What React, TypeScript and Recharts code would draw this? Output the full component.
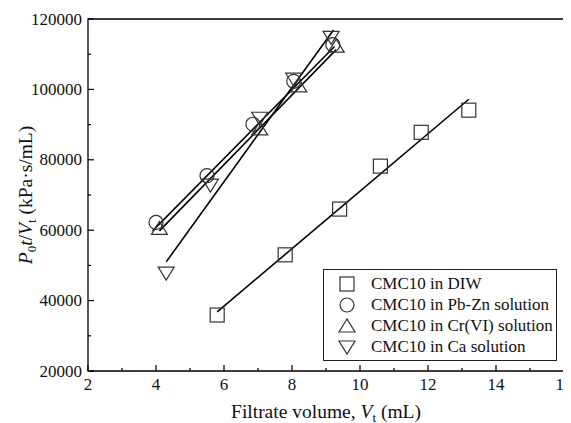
import {
  ComposedChart,
  XAxis,
  YAxis,
  Scatter,
  Line,
  ReferenceArea,
  Legend
} from "recharts";

const font = "Liberation Serif";

// axis ticks (minor ones carry no label)
const xTicks = [2, 3, 4, 5, 6, 7, 8, 9, 10, 11, 12, 13, 14, 15, 16];
const yTicks = [20000, 30000, 40000, 50000, 60000, 70000, 80000, 90000, 100000, 110000, 120000];

// measured points
const diw = [
  { x: 5.8, y: 35900 },
  { x: 7.8, y: 53000 },
  { x: 9.4, y: 66000 },
  { x: 10.6, y: 78200 },
  { x: 11.8, y: 87800 },
  { x: 13.2, y: 94100 }
];
const pbzn = [
  { x: 4.0, y: 62200 },
  { x: 5.5, y: 75500 },
  { x: 6.85, y: 90100 },
  { x: 8.05, y: 102300 },
  { x: 9.2, y: 112700 }
];
const crvi = [
  { x: 4.1, y: 60500 },
  { x: 7.05, y: 88800 },
  { x: 8.2, y: 101000 },
  { x: 9.3, y: 112300 }
];
const ca = [
  { x: 4.3, y: 47800 },
  { x: 5.6, y: 72800 },
  { x: 7.05, y: 91800 },
  { x: 8.05, y: 102900 },
  { x: 9.15, y: 114800 }
];

// fitted lines, end points
const fitDiw = [
  { x: 5.8, y: 36800 },
  { x: 13.2, y: 97200 }
];
const fitPbzn = [
  { x: 3.9, y: 59800 },
  { x: 9.25, y: 112200 }
];
const fitCrvi = [
  { x: 4.1, y: 59800 },
  { x: 9.3, y: 111300 }
];
const fitCa = [
  { x: 4.3, y: 51000 },
  { x: 9.22, y: 116900 }
];

const seriesNames = [
  "CMC10 in DIW",
  "CMC10 in Pb-Zn solution",
  "CMC10 in Cr(VI) solution",
  "CMC10 in Ca solution"
];
const seriesShapes = ["square", "circle", "up", "down"];

const markStroke = "#333";

function Marker({ kind, cx, cy }: { kind: string; cx: number; cy: number }) {
  const common = { fill: "none", stroke: markStroke, strokeWidth: 1.2 };
  if (kind === "square") {
    return <rect x={cx - 7} y={cy - 7} width={14} height={14} {...common} />;
  }
  if (kind === "circle") {
    return <circle cx={cx} cy={cy} r={7} {...common} />;
  }
  if (kind === "up") {
    return (
      <polygon
        points={`${cx},${cy - 7} ${cx - 8},${cy + 6} ${cx + 8},${cy + 6}`}
        {...common}
      />
    );
  }
  return (
    <polygon
      points={`${cx - 8},${cy - 6} ${cx + 8},${cy - 6} ${cx},${cy + 7}`}
      {...common}
    />
  );
}

function XTick({ x, y, payload }: any) {
  const v = payload.value;
  const major = v % 2 === 0;
  return (
    <g>
      <line x1={x} x2={x} y1={y} y2={y - (major ? 6 : 3)} stroke="#000" strokeWidth={1.2} />
      {major && (
        <text x={x} y={y + 19} textAnchor="middle" fontSize={17} fontFamily={font} fill="#111">
          {v}
        </text>
      )}
    </g>
  );
}

function YTick({ x, y, payload }: any) {
  const v = payload.value;
  const major = v % 20000 === 0;
  return (
    <g>
      <line x1={x} x2={x + (major ? 6 : 3)} y1={y} y2={y} stroke="#000" strokeWidth={1.2} />
      {major && (
        <text
          x={x - 6}
          y={y}
          textAnchor="end"
          dominantBaseline="central"
          fontSize={17}
          fontFamily={font}
          fill="#111"
        >
          {v}
        </text>
      )}
    </g>
  );
}

function XTitle({ viewBox }: any) {
  const vb = viewBox || { x: 80, y: 363, width: 476, height: 52 };
  return (
    <text
      x={vb.x + vb.width / 2}
      y={vb.y + 47}
      textAnchor="middle"
      fontSize={19.5}
      fontFamily={font}
      fill="#111"
    >
      Filtrate volume, <tspan fontStyle="italic">V</tspan>
      <tspan fontSize={13} dy={4}>t</tspan>
      <tspan dy={-4}> (mL)</tspan>
    </text>
  );
}

function YTitle({ viewBox }: any) {
  const vb = viewBox || { x: 0, y: 11, width: 80, height: 352 };
  const cx = vb.x + 24;
  const cy = vb.y + vb.height / 2;
  return (
    <text
      x={cx}
      y={cy}
      transform={`rotate(-90, ${cx}, ${cy})`}
      textAnchor="middle"
      fontSize={19.5}
      fontFamily={font}
      fill="#111"
    >
      <tspan fontStyle="italic">P</tspan>
      <tspan fontSize={13} dy={4}>0</tspan>
      <tspan fontStyle="italic" dy={-4}>t</tspan>
      <tspan>/</tspan>
      <tspan fontStyle="italic">V</tspan>
      <tspan fontSize={13} dy={4}>t</tspan>
      <tspan dy={-4}> (kPa·s/mL)</tspan>
    </text>
  );
}

function LegendBox() {
  return (
    <div
      style={{
        boxSizing: "border-box",
        width: 234,
        height: 92,
        border: "1.2px solid #222",
        background: "#fff",
        paddingTop: 3,
        fontFamily: font,
        fontSize: 17,
        color: "#111"
      }}
    >
      {seriesNames.map((name, i) => (
        <div key={name} style={{ display: "flex", alignItems: "center", height: 21 }}>
          <svg width={20} height={20} style={{ marginLeft: 13, marginRight: 14 }}>
            <Marker kind={seriesShapes[i]} cx={10} cy={10} />
          </svg>
          <span style={{ whiteSpace: "nowrap" }}>{name}</span>
        </div>
      ))}
    </div>
  );
}

const pointSets = [diw, pbzn, crvi, ca];
const fitSets = [fitDiw, fitPbzn, fitCrvi, fitCa];

export default function App() {
  return (
    <div style={{ position: "relative", width: 563, height: 415, fontFamily: font }}>
      <ComposedChart
        width={563}
        height={415}
        margin={{ top: 11, right: 7, bottom: 0, left: 0 }}
        style={{ overflow: "visible" }}
      >
        <XAxis
          type="number"
          dataKey="x"
          domain={[2, 16]}
          ticks={xTicks}
          interval={0}
          tickSize={0}
          tickMargin={0}
          tick={<XTick />}
          axisLine={false}
          height={52}
          label={<XTitle />}
        />
        <YAxis
          type="number"
          dataKey="y"
          domain={[20000, 120000]}
          ticks={yTicks}
          interval={0}
          tickSize={0}
          tickMargin={0}
          tick={<YTick />}
          axisLine={false}
          width={80}
          label={<YTitle />}
        />
        <ReferenceArea
          x1={2}
          x2={16}
          y1={20000}
          y2={120000}
          fill="none"
          stroke="#000"
          strokeWidth={1.3}
          fillOpacity={0}
        />
        {fitSets.map((d, i) => (
          <Line
            key={"fit" + i}
            data={d}
            dataKey="y"
            type="linear"
            stroke="#000"
            strokeWidth={1.6}
            dot={false}
            activeDot={false}
            legendType="none"
            isAnimationActive={false}
          />
        ))}
        {pointSets.map((d, i) => (
          <Scatter
            key={"pts" + i}
            name={seriesNames[i]}
            data={d}
            dataKey="y"
            shape={(p: any) => <Marker kind={seriesShapes[i]} cx={p.cx} cy={p.cy} />}
            isAnimationActive={false}
          />
        ))}
        <Legend
          layout="horizontal"
          verticalAlign="middle"
          align="center"
          content={() => <LegendBox />}
          wrapperStyle={{ left: 315, top: 261, width: 234, height: 92 }}
        />
      </ComposedChart>
    </div>
  );
}
